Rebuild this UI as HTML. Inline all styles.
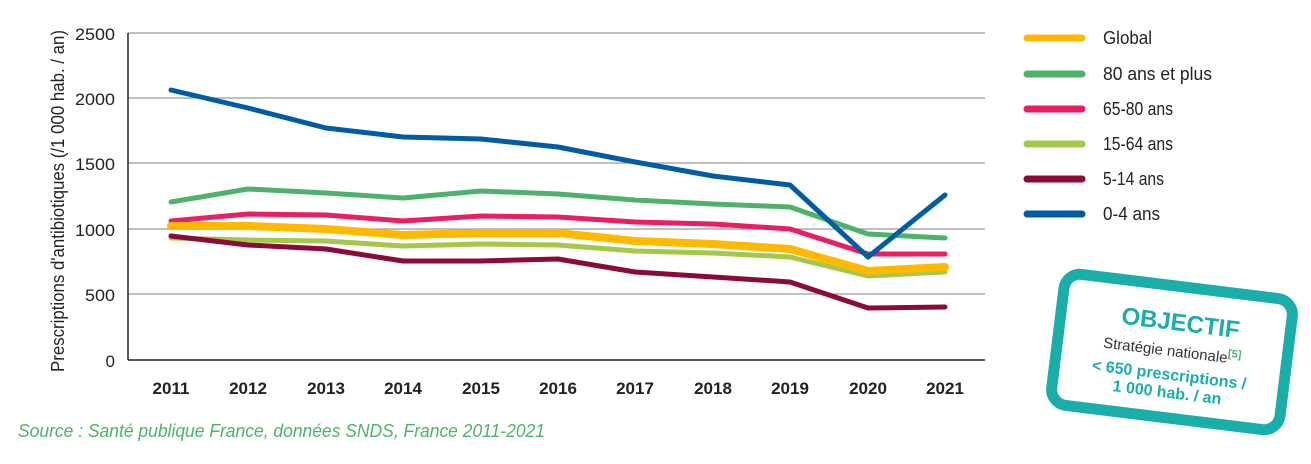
<!DOCTYPE html>
<html><head><meta charset="utf-8"><style>
body{margin:0;background:#fff;}
svg text{font-family:"Liberation Sans",sans-serif;}
</style></head><body>
<svg width="1311" height="459" viewBox="0 0 1311 459" xmlns="http://www.w3.org/2000/svg">
<g stroke="#999" stroke-width="1.3">
<line x1="128" y1="33" x2="985" y2="33"/><line x1="128" y1="98" x2="985" y2="98"/>
<line x1="128" y1="163" x2="985" y2="163"/><line x1="128" y1="229" x2="985" y2="229"/>
<line x1="128" y1="294" x2="985" y2="294"/>
</g>
<line x1="128" y1="33" x2="128" y2="360" stroke="#222" stroke-width="1.5"/>
<line x1="128" y1="360" x2="985" y2="360" stroke="#222" stroke-width="1.5"/>
<g font-size="17" fill="#222" text-anchor="end">
<text x="115" y="40" textLength="40" lengthAdjust="spacingAndGlyphs">2500</text><text x="115" y="105" textLength="40" lengthAdjust="spacingAndGlyphs">2000</text><text x="115" y="170" textLength="40" lengthAdjust="spacingAndGlyphs">1500</text>
<text x="115" y="236" textLength="40" lengthAdjust="spacingAndGlyphs">1000</text><text x="115" y="301" textLength="30" lengthAdjust="spacingAndGlyphs">500</text><text x="115" y="367">0</text>
</g>
<text transform="translate(64,201) rotate(-90)" font-size="18" fill="#222" text-anchor="middle" textLength="342" lengthAdjust="spacingAndGlyphs">Prescriptions d'antibiotiques (/1 000 hab. / an)</text>
<g font-size="17" fill="#222" text-anchor="middle" font-weight="bold">
<text x="171" y="394">2011</text><text x="248" y="394">2012</text><text x="326" y="394">2013</text>
<text x="403" y="394">2014</text><text x="481" y="394">2015</text><text x="558" y="394">2016</text>
<text x="635" y="394">2017</text><text x="713" y="394">2018</text><text x="790" y="394">2019</text>
<text x="868" y="394">2020</text><text x="945" y="394">2021</text>
</g>
<g fill="none" stroke-linejoin="round" stroke-linecap="round">
<polyline stroke="#a3c84a" stroke-width="5" points="171,238 248,240 326,241 403,246 481,244 558,245 635,251 713,253 790,257 868,276 945,272"/>
<polyline stroke="#4db36a" stroke-width="5" points="171,202 248,189 326,193 403,198 481,191 558,194 635,200 713,204 790,207 868,234 945,238"/>
<polyline stroke="#e91e63" stroke-width="5" points="171,221 248,214 326,215 403,221 481,216 558,217 635,222 713,224 790,229 868,254 945,254"/>
<polyline stroke="#ffb900" stroke-width="8" points="171,226 248,226 326,229 403,235 481,233 558,233 635,241 713,244 790,249 868,271 945,267"/>
<polyline stroke="#8b0a3a" stroke-width="5" points="171,236 248,245 326,249 403,261 481,261 558,259 635,272 713,277 790,282 868,308 945,307"/>
<polyline stroke="#005ca4" stroke-width="5" points="171,90 248,108 326,128 403,137 481,139 558,147 635,162 713,176 790,185 868,257 945,195"/>
</g>
<g stroke-width="7" stroke-linecap="round">
<line x1="1027" y1="38" x2="1082" y2="38" stroke="#ffb900"/>
<line x1="1027" y1="74" x2="1082" y2="74" stroke="#4db36a"/>
<line x1="1027" y1="109" x2="1082" y2="109" stroke="#e91e63"/>
<line x1="1027" y1="144" x2="1082" y2="144" stroke="#a3c84a"/>
<line x1="1027" y1="179" x2="1082" y2="179" stroke="#8b0a3a"/>
<line x1="1027" y1="214" x2="1082" y2="214" stroke="#005ca4"/>
</g>
<g font-size="18" fill="#222">
<text x="1103" y="44" textLength="49" lengthAdjust="spacingAndGlyphs">Global</text><text x="1103" y="80" textLength="109" lengthAdjust="spacingAndGlyphs">80 ans et plus</text>
<text x="1103" y="115" textLength="70" lengthAdjust="spacingAndGlyphs">65-80 ans</text><text x="1103" y="150" textLength="70" lengthAdjust="spacingAndGlyphs">15-64 ans</text>
<text x="1103" y="185" textLength="61" lengthAdjust="spacingAndGlyphs">5-14 ans</text><text x="1103" y="220" textLength="57" lengthAdjust="spacingAndGlyphs">0-4 ans</text>
</g>
<g transform="translate(1172,352) rotate(7)">
<rect x="-115" y="-66" width="230" height="132" rx="16" fill="#fff" stroke="#1aaeaa" stroke-width="11"/>
<text x="5" y="-22" text-anchor="middle" font-size="24" font-weight="bold" fill="#1aaeaa">OBJECTIF</text>
<text x="0" y="4" text-anchor="middle" font-size="15" fill="#333">Stratégie nationale<tspan font-size="11" fill="#4db36a" font-weight="bold" dy="-6">[5]</tspan></text>
<text x="0" y="28" text-anchor="middle" font-size="16" font-weight="bold" fill="#1aaeaa">&lt; 650 prescriptions /</text>
<text x="0" y="46" text-anchor="middle" font-size="16" font-weight="bold" fill="#1aaeaa">1 000 hab. / an</text>
</g>
<text x="18" y="437" font-size="18" font-style="italic" fill="#4db36a" textLength="527" lengthAdjust="spacingAndGlyphs">Source : Santé publique France, données SNDS, France 2011-2021</text>
</svg>
</body></html>
